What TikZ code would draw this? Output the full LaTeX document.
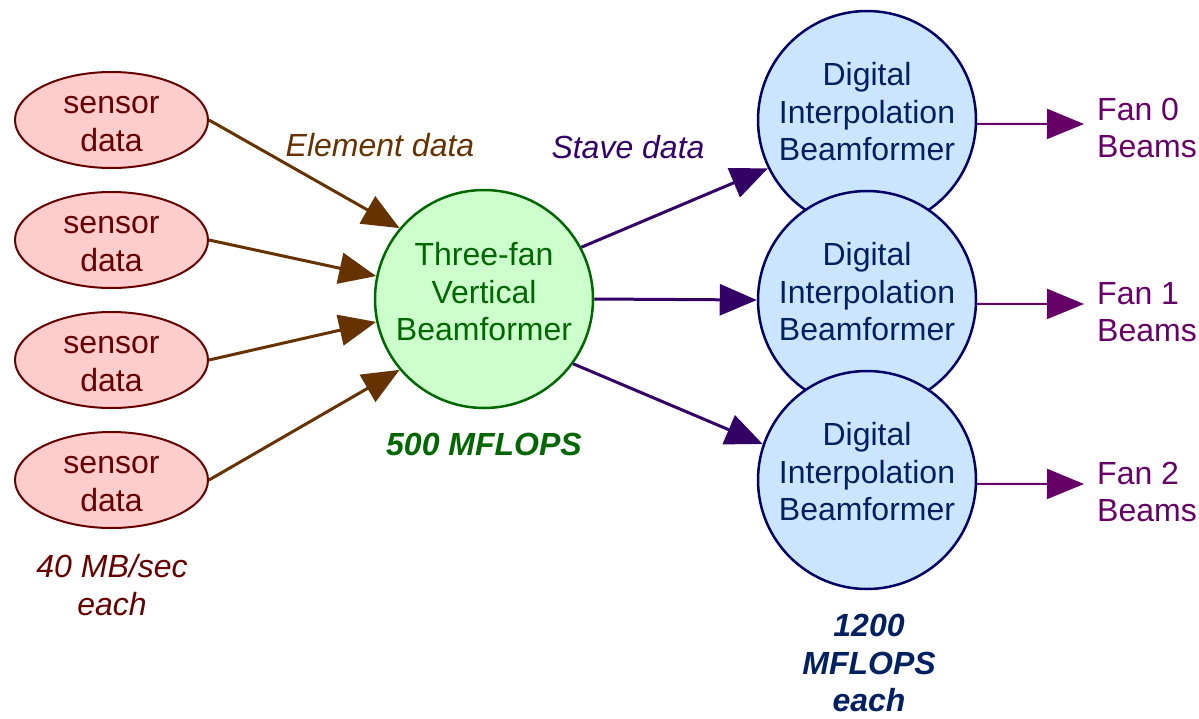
\documentclass[tikz,border=0pt]{standalone}
\usepackage{fontspec}
\setmainfont{Liberation Sans}
\usetikzlibrary{arrows.meta,shapes.geometric}
\definecolor{sred}{HTML}{660000}
\definecolor{sfill}{HTML}{FFCCCC}
\definecolor{brownc}{HTML}{663300}
\definecolor{gdraw}{HTML}{006600}
\definecolor{gfill}{HTML}{CCFFCC}
\definecolor{bdraw}{HTML}{000066}
\definecolor{bfill}{HTML}{CCE5FF}
\definecolor{btext}{HTML}{002060}
\definecolor{purp}{HTML}{330066}
\definecolor{fanc}{HTML}{660066}
\begin{document}
\begin{tikzpicture}[x=1pt,y=-1pt,
  font=\fontsize{32}{37.5}\selectfont,
  sensor/.style={ellipse, draw=sred, line width=2pt, fill=sfill,
    minimum width=193pt, minimum height=96pt, inner sep=0pt},
  greencirc/.style={circle, draw=gdraw, line width=2.5pt, fill=gfill, minimum size=218pt, inner sep=0pt},
  bluecirc/.style={circle, draw=bdraw, line width=2.5pt, fill=bfill, minimum size=218pt, inner sep=0pt},
  lbl/.style={inner sep=0pt, align=center},
  brownarr/.style={draw=brownc, line width=3pt, -{Triangle[length=37pt,width=31pt]}},
  purparr/.style={draw=purp, line width=3pt, -{Triangle[length=37pt,width=31pt]}},
  fanarr/.style={draw=fanc, line width=2pt, -{Triangle[length=37pt,width=30pt]}}
]
\useasboundingbox (0,0) rectangle (1199,718);

% sensor ellipses
\node[sensor] (s1) at (111.5,120) {};
\node[sensor] (s2) at (111.5,240) {};
\node[sensor] (s3) at (111.5,360) {};
\node[sensor] (s4) at (111.5,480) {};
\node[lbl, text=sred] (s1t) at (111.5,124) {sensor\\data};
\node[lbl, text=sred] (s2t) at (111.5,244) {sensor\\data};
\node[lbl, text=sred] (s3t) at (111.5,364) {sensor\\data};
\node[lbl, text=sred] (s4t) at (111.5,484) {sensor\\data};

% green beamformer
\node[greencirc] (g) at (484,299) {};
\node[lbl, text=gdraw] (gt) at (484,292) {Three-fan\\Vertical\\Beamformer};

% blue beamformers
\node[bluecirc] (b1) at (867,120) {};
\node[lbl, text=btext] (b1t) at (867,112) {Digital\\Interpolation\\Beamformer};
\node[bluecirc] (b2) at (867,300) {};
\node[lbl, text=btext] (b2t) at (867,292) {Digital\\Interpolation\\Beamformer};
\node[bluecirc] (b3) at (867,480) {};
\node[lbl, text=btext] (b3t) at (867,472) {Digital\\Interpolation\\Beamformer};

% labels
\node[lbl, text=brownc, font=\fontsize{32}{37.5}\selectfont\itshape] (el) at (380,145) {Element data};
\node[lbl, text=purp, font=\fontsize{32}{37.5}\selectfont\itshape] (st) at (628,147) {Stave data};
\node[lbl, text=gdraw, font=\fontsize{32}{37.5}\selectfont\bfseries\itshape] (m5) at (484,444) {500 MFLOPS};
\node[lbl, text=sred, font=\fontsize{32}{37.5}\selectfont\itshape] (rate) at (112,585) {40 MB/sec\\each};
\node[lbl, text=btext, font=\fontsize{32}{37.5}\selectfont\bfseries\itshape] (m12) at (869,663) {1200\\MFLOPS\\each};

% fan outputs
\node[lbl, anchor=west, align=left, text=fanc] (f0t) at (1097,128) {Fan 0\\Beams};
\node[lbl, anchor=west, align=left, text=fanc] (f1t) at (1097,312) {Fan 1\\Beams};
\node[lbl, anchor=west, align=left, text=fanc] (f2t) at (1097,492) {Fan 2\\Beams};
\coordinate (f0) at (1084,124);
\coordinate (f1) at (1084,304);
\coordinate (f2) at (1084,484);

% element data arrows
\draw[brownarr] (s1.east) -- (g.140);
\draw[brownarr] (s2.east) -- (g.168);
\draw[brownarr] (s3.east) -- (g.192);
\draw[brownarr] (s4.east) -- (g.220);

% stave data arrows
\draw[purparr] (g.28) -- (b1.206);
\draw[purparr] (g.0) -- (b2.180);
\draw[purparr] (g.-36) -- (b3.161);

% beam outputs
\draw[fanarr] (b1.-2) -- (f0);
\draw[fanarr] (b2.-2) -- (f1);
\draw[fanarr] (b3.-2) -- (f2);
\end{tikzpicture}
\end{document}
